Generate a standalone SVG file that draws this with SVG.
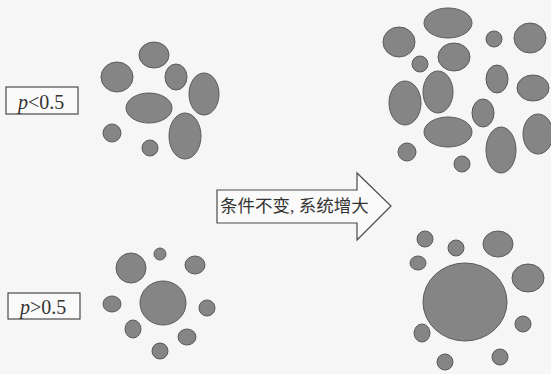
<svg xmlns="http://www.w3.org/2000/svg" width="551" height="374" viewBox="0 0 551 374">
<style>
.b{fill:#858585;stroke:#5a5a5a;stroke-width:1}
.box{fill:#fafafa;stroke:#4a4a4a;stroke-width:1.2}
.lab{font-family:"Liberation Serif","Times New Roman",serif;font-size:20px;fill:#333}
.cn{font-family:"Liberation Serif","Noto Sans CJK SC",serif;font-size:17.5px;fill:#333}
</style>
<rect width="551" height="374" fill="#f6f6f6"/>
<g id="label-lt">
<rect class="box" x="6" y="87" width="72" height="27"/>
<text class="lab" x="18" y="109"><tspan font-style="italic">p</tspan>&lt;0.5</text>
</g>
<g id="label-gt">
<rect class="box" x="8" y="293" width="72" height="26"/>
<text class="lab" x="20" y="314"><tspan font-style="italic">p</tspan>&gt;0.5</text>
</g>
<g id="arrow">
<polygon class="box" points="217,190 357,190 357,173 391,206 357,240 357,223 217,223"/>
<text class="cn" x="220" y="212">条件不变, 系统增大</text>
</g>
<g id="cluster-top-left">
<ellipse class="b" cx="154" cy="55" rx="15" ry="13"/>
<ellipse class="b" cx="117" cy="77" rx="16" ry="15"/>
<ellipse class="b" cx="176" cy="77" rx="11" ry="13"/>
<ellipse class="b" cx="204" cy="94" rx="15" ry="21"/>
<ellipse class="b" cx="149" cy="108" rx="23" ry="15"/>
<ellipse class="b" cx="185" cy="136" rx="16" ry="23"/>
<ellipse class="b" cx="112" cy="133" rx="9" ry="9"/>
<ellipse class="b" cx="150" cy="148" rx="8" ry="8"/>
</g>
<g id="cluster-top-right">
<ellipse class="b" cx="448" cy="23" rx="24" ry="15"/>
<ellipse class="b" cx="399" cy="42" rx="16" ry="15"/>
<ellipse class="b" cx="494" cy="39" rx="8" ry="8"/>
<ellipse class="b" cx="530" cy="38" rx="16" ry="15"/>
<ellipse class="b" cx="420" cy="64" rx="8" ry="8"/>
<ellipse class="b" cx="454" cy="57" rx="16" ry="14"/>
<ellipse class="b" cx="438" cy="92" rx="15" ry="21"/>
<ellipse class="b" cx="405" cy="103" rx="16" ry="22"/>
<ellipse class="b" cx="497" cy="79" rx="11" ry="14"/>
<ellipse class="b" cx="533" cy="88" rx="16" ry="13"/>
<ellipse class="b" cx="483" cy="113" rx="11" ry="14"/>
<ellipse class="b" cx="448" cy="132" rx="24" ry="15"/>
<ellipse class="b" cx="538" cy="134" rx="15" ry="20"/>
<ellipse class="b" cx="501" cy="150" rx="15" ry="23"/>
<ellipse class="b" cx="407" cy="152" rx="9" ry="9"/>
<ellipse class="b" cx="462" cy="164" rx="8" ry="8"/>
</g>
<g id="cluster-bottom-left">
<ellipse class="b" cx="163" cy="303" rx="23" ry="22"/>
<ellipse class="b" cx="131" cy="268" rx="15" ry="15"/>
<ellipse class="b" cx="160" cy="254" rx="6" ry="6"/>
<ellipse class="b" cx="195" cy="265" rx="10" ry="9"/>
<ellipse class="b" cx="112" cy="304" rx="9" ry="8"/>
<ellipse class="b" cx="207" cy="308" rx="8" ry="8"/>
<ellipse class="b" cx="133" cy="329" rx="8" ry="9"/>
<ellipse class="b" cx="187" cy="337" rx="9" ry="8"/>
<ellipse class="b" cx="160" cy="351" rx="8" ry="8"/>
</g>
<g id="cluster-bottom-right">
<ellipse class="b" cx="465" cy="302" rx="42" ry="39"/>
<ellipse class="b" cx="425" cy="239" rx="8" ry="8"/>
<ellipse class="b" cx="456" cy="248" rx="8" ry="8"/>
<ellipse class="b" cx="498" cy="244" rx="15" ry="13"/>
<ellipse class="b" cx="418" cy="263" rx="8" ry="7"/>
<ellipse class="b" cx="528" cy="278" rx="16" ry="14"/>
<ellipse class="b" cx="523" cy="324" rx="8" ry="8"/>
<ellipse class="b" cx="422" cy="333" rx="8" ry="9"/>
<ellipse class="b" cx="445" cy="362" rx="8" ry="8"/>
<ellipse class="b" cx="500" cy="357" rx="8" ry="8"/>
</g>
</svg>
